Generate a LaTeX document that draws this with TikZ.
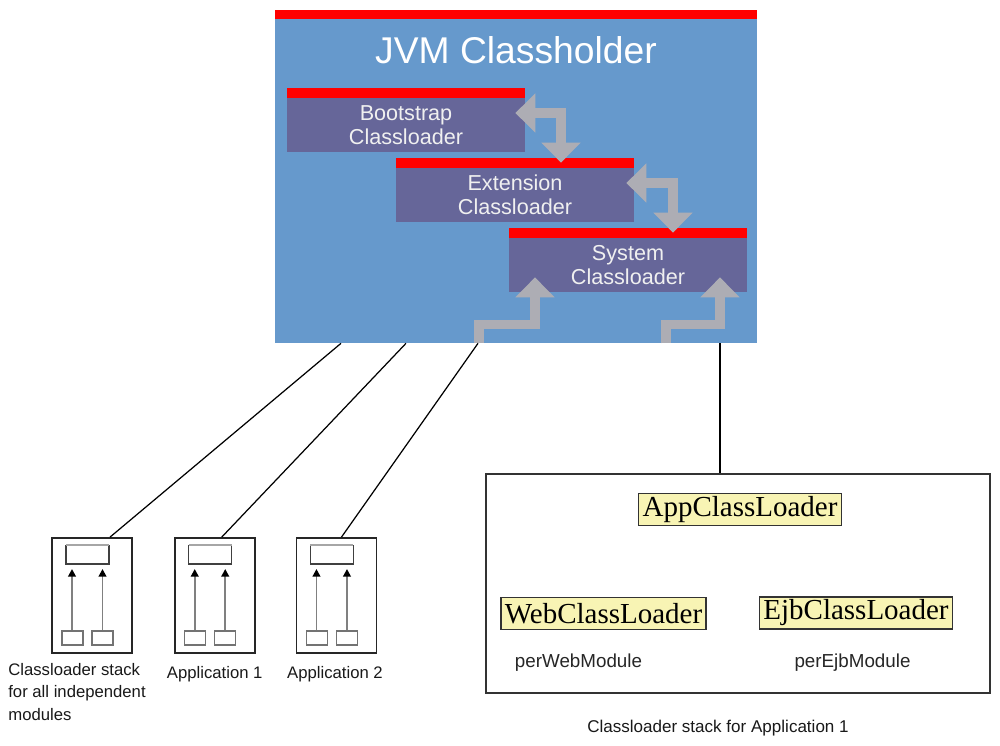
\documentclass[tikz,border=0pt]{standalone}
\usepackage{fontspec}
\setmainfont{Liberation Serif}
\setsansfont{Liberation Sans}
\usepackage{xcolor}
\usepackage{tikz}
\usetikzlibrary{arrows.meta,positioning}

\definecolor{jvmblue}{HTML}{6699CC}
\definecolor{loaderpurple}{HTML}{666699}
\definecolor{barred}{HTML}{FF0000}
\definecolor{flowgray}{HTML}{ADADB4}
\definecolor{noteyellow}{HTML}{F8F4B4}

\tikzset{
  redbar/.style={path picture={\fill[barred] (path picture bounding box.north west) rectangle ([yshift=-#1]path picture bounding box.north east);}},
  redbar/.default=0.2cm,
  loader/.style={fill=loaderpurple, redbar, minimum width=4.76cm, minimum height=1.28cm, inner sep=0pt},
  loadertext/.style={text=white!94!black, font=\sffamily\fontsize{12.3}{13.4}\selectfont, align=center, inner sep=0pt},
  flow/.style={draw=flowgray, line width=0.19cm, >={Triangle[width=0.76cm,length=0.4cm]}},
  wire/.style={draw=black, line width=0.7pt},
  modbox/.style={draw=black!85, line width=1pt, minimum width=1.6cm, minimum height=2.3cm, inner sep=0pt},
  modarrow/.style={draw=black!50, line width=1.1pt, -{Triangle[black,width=0.15cm,length=0.15cm]}},
  modlabel/.style={font=\sffamily\fontsize{9.5}{12.8}\selectfont, text=black!90, inner sep=0pt},
  yellowbox/.style={fill=noteyellow, draw=black!80, line width=0.8pt, font=\fontsize{16.5}{18}\selectfont, inner xsep=0.08cm, inner ysep=0pt, minimum height=0.64cm},
  notetext/.style={font=\sffamily\fontsize{10.7}{12}\selectfont, text=black!85, inner sep=0pt}
}

\begin{document}
\begin{tikzpicture}[x=0.02cm, y=-0.02cm]
  \useasboundingbox[fill=white] (0,0) rectangle (1000,746);

  % JVM part
  \node[fill=jvmblue, redbar=0.18cm, minimum width=9.64cm, minimum height=6.66cm, inner sep=0pt] (jvm) at (516,176.5) {};
  \node[text=white, font=\sffamily\fontsize{21.2}{24}\selectfont, inner sep=0pt] (title) at (516,50) {JVM Classholder};

  \node[loader, label={[loadertext, yshift=-0.1cm]center:Bootstrap\\Classloader}] (boot) at (406,120) {};
  \node[loader, label={[loadertext, yshift=-0.1cm]center:Extension\\Classloader}] (ext) at (515,190) {};
  \node[loader, label={[loadertext, yshift=-0.1cm]center:System\\Classloader}] (sys) at (628,260) {};

  \draw[flow, <->] ([shift={(-10,-7)}]boot.east) -| ([shift={(46,5)}]ext.north);
  \draw[flow, <->] ([shift={(-8,-7)}]ext.east) -| ([shift={(45,5)}]sys.north);
  \draw[flow, ->] ([shift={(-37,0)}]jvm.south) -- ++(0,-19) -| ([shift={(-93,-15)}]sys.south);
  \draw[flow, ->] ([shift={(150,0)}]jvm.south) -- ++(0,-19) -| ([shift={(92,-15)}]sys.south);

  % module stacks
  \node[modbox] (mod1) at (92,595.5) {};
  \node[modbox, right=0.82cm of mod1] (mod2) {};
  \node[modbox, right=0.8cm of mod2] (mod3) {};

  \foreach \m in {mod1,mod2,mod3}{
    \draw[black!75, line width=0.8pt] ([shift={(-26,-50.5)}]\m.center) -- ([shift={(-26,-31.5)}]\m.center)
      -- ([shift={(17,-31.5)}]\m.center) -- ([shift={(17,-50.5)}]\m.center);
    \draw[black!35, line width=0.8pt] ([shift={(-26,-50.5)}]\m.center) -- ([shift={(17,-50.5)}]\m.center);
    \draw[modarrow] ([shift={(-20,34.5)}]\m.center) -- ([shift={(-20,-26.5)}]\m.center);
    \draw[modarrow] ([shift={(10.5,34.5)}]\m.center) -- ([shift={(10.5,-26.5)}]\m.center);
    \draw[black!55, line width=0.8pt] ([shift={(-30,35.5)}]\m.center) rectangle ([shift={(-9,49.5)}]\m.center);
    \draw[black!55, line width=0.8pt] ([shift={(0,35.5)}]\m.center) rectangle ([shift={(21,49.5)}]\m.center);
  }

  \node[modlabel, anchor=north west, align=left] (mod1lbl) at (8,663) {Classloader stack\\for all independent\\modules};
  \node[modlabel, below=0.24cm of mod2] (mod2lbl) {Application 1};
  \node[modlabel, below=0.24cm of mod3, xshift=-0.03cm] (mod3lbl) {Application 2};

  % application 1 stack
  \node[draw=black!80, line width=0.9pt, minimum width=10.08cm, minimum height=4.38cm, inner sep=0pt] (stack) at (738,583.5) {};
  \node[yellowbox] (app) at (740,509.5) {AppClassLoader};
  \node[yellowbox] (web) at (603.5,613.5) {WebClassLoader};
  \node[yellowbox] (ejb) at (856,613) {EjbClassLoader};
  \node[notetext] (webnote) at (578.5,663) {perWebModule};
  \node[notetext] (ejbnote) at (852.5,663) {perEjbModule};
  \node[modlabel, font=\sffamily\fontsize{9.7}{12}\selectfont] (stacklbl) at (718,728) {Classloader stack for Application 1};

  % connectors
  \draw[wire] ([shift={(-175,0)}]jvm.south) -- ([shift={(18,0)}]mod1.north);
  \draw[wire] ([shift={(-110,0)}]jvm.south) -- ([shift={(7,0)}]mod2.north);
  \draw[wire] ([shift={(-38,0)}]jvm.south) -- ([shift={(5,0)}]mod3.north);
  \draw[wire] ([shift={(204,0)}]jvm.south) coordinate (drop) -- (drop |- stack.north);
\end{tikzpicture}
\end{document}
